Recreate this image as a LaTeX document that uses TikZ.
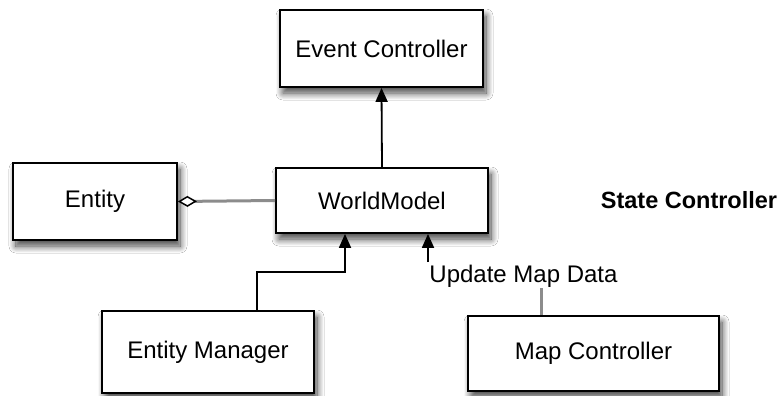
\documentclass[tikz,border=0pt]{standalone}
\usepackage{fontspec}
\setmainfont{Liberation Sans}
\usetikzlibrary{arrows.meta,shadows.blur}
\begin{document}
\begin{tikzpicture}[x=1pt,y=-1pt,
  box/.style={draw=black, line width=1.8pt, fill=white, rectangle, inner sep=0pt,
    font=\fontsize{24pt}{28pt}\selectfont,
    blur shadow={shadow xshift=3pt, shadow yshift=-6pt, shadow blur radius=7pt, shadow blur steps=12, shadow opacity=75}},
  arr/.style={draw=black, line width=1.8pt, -{Triangle[length=14pt,width=12pt]}},
  gline/.style={draw=black!45, line width=3pt},
  lbltext/.style={font=\fontsize{24pt}{28pt}\selectfont, inner sep=1pt}]
\useasboundingbox (0,0) rectangle (780,396);
\fill[white] (0,0) rectangle (780,396);

\node[box, minimum width=203pt, minimum height=77pt] (ec) at (381.5,48.5) {Event Controller};
\node[box, minimum width=212pt, minimum height=65pt] (wm) at (382,200.5) {WorldModel};
\node[box, minimum width=164pt, minimum height=77pt] (ent) at (95,201.5) {Entity};
\node[box, minimum width=212pt, minimum height=82pt] (em) at (208,352) {Entity Manager};
\node[box, minimum width=251pt, minimum height=75pt] (mc) at (593.5,353.5) {Map Controller};
\node[lbltext, font=\bfseries\fontsize{23.5pt}{28pt}\selectfont] (sc) at (689,200) {State Controller};
\node[lbltext] (lbl) at (523.5,276) {Update Map Data};

\coordinate (bend) at (345,272);
\coordinate (ua) at (428,262);
\coordinate (mcl) at ([xshift=-52.5pt]mc.north);

\draw[arr] (wm.north) -- (ec.south);
\draw[gline, -{Diamond[open, length=19pt, width=11pt, line width=1.5pt, color=black, fill=white]}] (wm.west) -- (ent.east);
\draw[arr] ([xshift=49pt]em.north) |- (bend) -- (bend |- wm.south);
\draw[arr] (ua) -- (ua |- wm.south);
\draw[gline] (mcl) -- (mcl |- lbl.south);
\end{tikzpicture}
\end{document}
